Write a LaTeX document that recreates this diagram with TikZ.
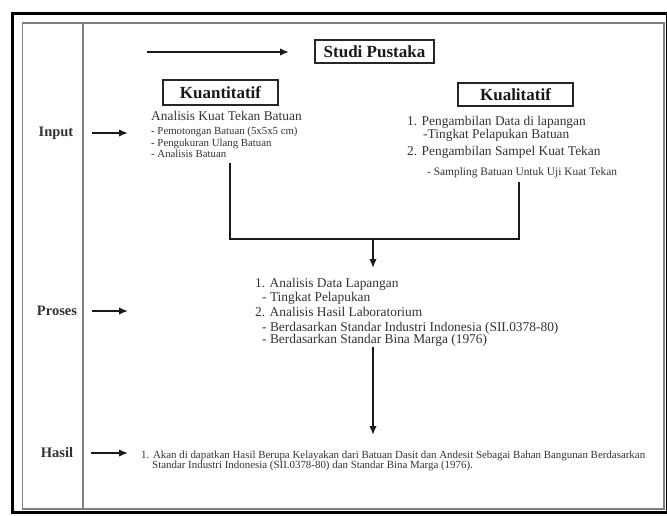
\documentclass[tikz,border=0pt]{standalone}
\usepackage{fontspec}
\setmainfont{Liberation Serif}
\usetikzlibrary{arrows.meta}
\tikzset{
  outerframe/.style={draw=black, line width=3pt},
  innerframe/.style={draw=black!50, line width=1.6pt},
  hdrbox/.style={draw=black!85, line width=1.3pt, inner sep=0pt, text=black!90,
    font=\bfseries\fontsize{17}{20}\selectfont},
  rowlbl/.style={inner sep=0pt, text=black!80, font=\bfseries\fontsize{14.5}{17}\selectfont},
  txt/.style={anchor=base west, inner sep=0pt, text=black!80},
  bodyA/.style={txt, font=\fontsize{13.4}{15}\selectfont},
  bodyB/.style={txt, font=\fontsize{10.8}{12}\selectfont},
  bodyC/.style={txt, font=\fontsize{11.4}{13}\selectfont},
  bodyD/.style={txt, font=\fontsize{10.9}{12}\selectfont},
  arr/.style={-{Latex[length=9pt,width=7.5pt]}, line width=1.7pt, draw=black!90},
  conn/.style={line width=1.7pt, draw=black!90},
}
\begin{document}
\begin{tikzpicture}[x=1pt,y=-1pt]
\useasboundingbox[fill=white] (0,0) rectangle (667,516);
% frames
\draw[outerframe] (12.5,13.5) rectangle (667,512.5);
\draw[innerframe] (22.5,23) rectangle (664,509);
\draw[innerframe] (83,23) -- (83,509);

% row labels
\node[rowlbl] (lin) at (56,133) {Input};
\node[rowlbl] (lpr) at (57,311) {Proses};
\node[rowlbl] (lha) at (57,453) {Hasil};

% boxes
\node[hdrbox, minimum width=119pt, minimum height=23pt] (studi) at (374.5,51.5) {Studi Pustaka};
\node[hdrbox, minimum width=115pt, minimum height=25pt] (kuan) at (220.5,92.5) {Kuantitatif};
\node[hdrbox, minimum width=115pt, minimum height=23pt] (kual) at (515.5,94.5) {Kualitatif};

% Kuantitatif text
\node[bodyA] (kq0) at (151,121) {Analisis Kuat Tekan Batuan};
\node[bodyB] (kq1) at (151,134.2) {- Pemotongan Batuan (5x5x5 cm)};
\node[bodyB] (kq2) at (151,146.2) {- Pengukuran Ulang Batuan};
\node[bodyB] (kq3) at (151,157.2) {- Analisis Batuan};

% Kualitatif text
\node[bodyA] (kl0) at (407,126) {1. Pengambilan Data di lapangan};
\node[bodyA] (kl1) at (423,139) {-Tingkat Pelapukan Batuan};
\node[bodyA] (kl2) at (407,156) {2. Pengambilan Sampel Kuat Tekan};
\node[bodyC] (kl3) at (427,175.4) {- Sampling Batuan Untuk Uji Kuat Tekan};

% Proses text
\node[bodyA] (p0) at (255,287) {1. Analisis Data Lapangan};
\node[bodyA] (p1) at (262,301) {- Tingkat Pelapukan};
\node[bodyA] (p2) at (255,316) {2. Analisis Hasil Laboratorium};
\node[bodyA] (p3) at (262,331) {- Berdasarkan Standar Industri Indonesia (SII.0378-80)};
\node[bodyA] (p4) at (262,343) {- Berdasarkan Standar Bina Marga (1976)};

% Hasil text
\node[bodyD] (h0) at (141,458.3) {1. Akan di dapatkan Hasil Berupa Kelayakan dari Batuan Dasit dan Andesit Sebagai Bahan Bangunan Berdasarkan};
\node[bodyD] (h1) at (152,468.3) {Standar Industri Indonesia (SII.0378-80) dan Standar Bina Marga (1976).};

% connector coordinates
\coordinate (topS) at (147,52);
\coordinate (topE) at (289,52);
\coordinate (inS) at (92,133);
\coordinate (inE) at (128,133);
\coordinate (prS) at (92,311);
\coordinate (prE) at (128,311);
\coordinate (haS) at (91,453);
\coordinate (haE) at (128,453);
\coordinate (kqB) at (230,163);
\coordinate (klB) at (519,182);
\coordinate (jL) at (230,239);
\coordinate (jR) at (519,239);
\coordinate (jM) at (373,239);
\coordinate (pT) at (373,268);
\coordinate (pB) at (373,347);
\coordinate (hT) at (373,435);

\draw[arr] (topS) -- (topE);
\draw[arr] (inS) -- (inE);
\draw[arr] (prS) -- (prE);
\draw[arr] (haS) -- (haE);
\draw[conn] (kqB) -- (jL) -- (jR) -- (klB);
\draw[arr] (jM) -- (pT);
\draw[arr] (pB) -- (hT);
\end{tikzpicture}
\end{document}
